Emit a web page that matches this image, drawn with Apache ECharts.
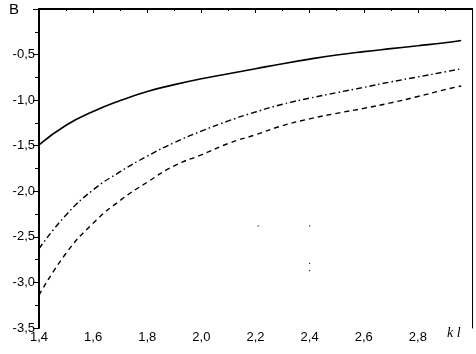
<!DOCTYPE html>
<html>
<head>
<meta charset="utf-8">
<script src="https://cdn.jsdelivr.net/npm/echarts@6/dist/echarts.min.js"></script>
<style>html,body{margin:0;padding:0;background:#fff}#c{width:476px;height:354px}</style>
</head>
<body>
<div id="c"></div>
<script>
var kl = [1.4,1.5,1.6,1.7,1.8,1.9,2.0,2.1,2.2,2.3,2.4,2.5,2.6,2.7,2.8,2.9,2.96];
var solid = [-1.49,-1.275,-1.125,-1.005,-0.905,-0.83,-0.765,-0.71,-0.655,-0.60,-0.55,-0.505,-0.468,-0.435,-0.403,-0.37,-0.345];
var dashDot = [-2.63,-2.26,-1.985,-1.785,-1.615,-1.465,-1.34,-1.228,-1.13,-1.045,-0.978,-0.918,-0.86,-0.80,-0.745,-0.69,-0.655];
var dashed = [-3.14,-2.68,-2.35,-2.10,-1.90,-1.72,-1.60,-1.475,-1.38,-1.28,-1.205,-1.145,-1.09,-1.03,-0.96,-0.885,-0.845];
var speckX = [2.21,2.4,2.4,2.4];
var speckY = [-2.38,-2.38,-2.79,-2.87];

function pairs(xs, ys){ return xs.map(function(x,i){ return [x, ys[i]]; }); }
function comma(v){ return v.toFixed(1).replace('.', ','); }

var chart = echarts.init(document.getElementById('c'), null, {renderer:'canvas'});
var FONT = 'Liberation Sans';
chart.setOption({
  backgroundColor:'#fff',
  animation:false,
  grid:{left:39, right:4, top:9, bottom:26, containLabel:false},
  xAxis:[{
    type:'value', min:1.4, max:3.0, interval:0.2,
    axisLine:{lineStyle:{color:'#000', width:2}},
    axisTick:{inside:false, length:4, lineStyle:{color:'#000', width:1}},
    minorTick:{show:true, splitNumber:2, length:2, lineStyle:{color:'#000'}},
    splitLine:{show:false},
    axisLabel:{color:'#000', fontFamily:FONT, fontSize:13, margin:3,
      formatter:function(v){ return v>2.95 ? '' : comma(v); }}
  },{
    type:'value', position:'top', min:1.4, max:3.0,
    axisLine:{show:true, onZero:false, lineStyle:{color:'#000', width:2}},
    axisTick:{show:false}, axisLabel:{show:false}, splitLine:{show:false}
  }],
  yAxis:[{
    type:'value', min:-3.5, max:0, interval:0.5,
    axisLine:{show:true, onZero:false, lineStyle:{color:'#000', width:2}},
    axisTick:{inside:false, length:6, lineStyle:{color:'#000', width:1}},
    minorTick:{show:true, splitNumber:2, length:4, lineStyle:{color:'#000'}},
    splitLine:{show:false},
    axisLabel:{color:'#000', fontFamily:FONT, fontSize:13, margin:4,
      formatter:function(v){ return v>-0.01 ? '' : comma(v); }}
  },{
    type:'value', position:'right', min:-3.5, max:0,
    axisLine:{show:true, onZero:false, lineStyle:{color:'#000', width:1}},
    axisTick:{show:false}, axisLabel:{show:false}, splitLine:{show:false}
  }],
  graphic:[
    {type:'text', left:9, top:2, style:{text:'B', font:'15px "Liberation Sans"', fill:'#000'}},
    {type:'text', left:447, top:326, style:{text:'k l', font:'italic 14px "Liberation Serif"', fill:'#000'}}
  ],
  series:[
    {type:'line', data:pairs(kl, solid), smooth:true, showSymbol:false,
      lineStyle:{color:'#000', width:1.6}},
    {type:'line', data:pairs(kl, dashDot), smooth:true, showSymbol:false,
      lineStyle:{color:'#000', width:1.4, type:[6,3,1.5,3]}},
    {type:'line', data:pairs(kl, dashed), smooth:true, showSymbol:false,
      lineStyle:{color:'#000', width:1.4, type:[5,4]}},
    {type:'scatter', data:pairs(speckX, speckY), symbol:'rect', symbolSize:1.2,
      itemStyle:{color:'#000'}, silent:true}
  ]
});
</script>
</body>
</html>
